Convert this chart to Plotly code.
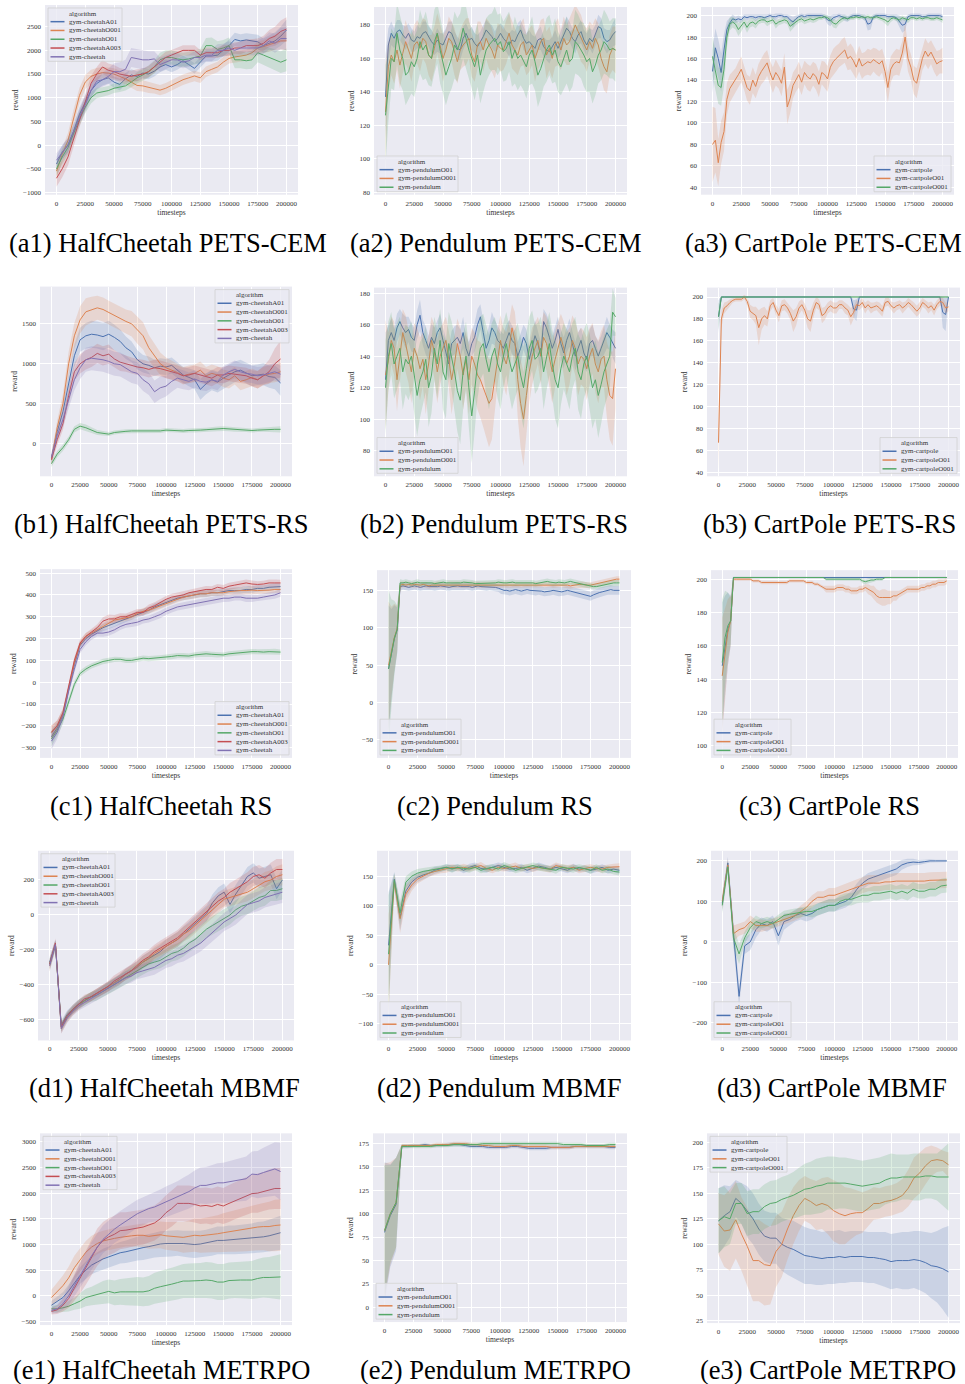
import plotly.graph_objects as go

W, H = 965, 1384

T5 = list(range(0, 200001, 5000))
T25 = list(range(0, 200001, 2500))
X_TICKS = [0, 25000, 50000, 75000, 100000, 125000, 150000, 175000, 200000]

CHEETAH = ["gym-cheetahA01", "gym-cheetahO001", "gym-cheetahO01", "gym-cheetahA003", "gym-cheetah"]
PENDULUM = ["gym-pendulumO01", "gym-pendulumO001", "gym-pendulum"]
CARTPOLE = ["gym-cartpole", "gym-cartpoleO01", "gym-cartpoleO001"]

# ---------------- (a1) HalfCheetah PETS-CEM  (T5) ----------------
a1_A01 = [-400, -150, 0, 300, 650, 900, 1150, 1300, 1380, 1420,
          1330, 1280, 1400, 1480, 1450, 1520, 1500, 1560, 1650, 1700,
          1650, 1700, 1780, 1700, 1620, 1750, 1880, 1880, 1900, 2000,
          2100, 2230, 2200, 2220, 2200, 2180, 2100, 2150, 2200, 2300,
          2430]
a1_O001 = [-550, -200, 100, 600, 1050, 1330, 1450, 1500, 1530, 1520,
           1500, 1450, 1400, 1330, 1260, 1250, 1220, 1200, 1160, 1200,
           1260, 1320, 1380, 1420, 1460, 1420, 1550, 1600, 1650, 1750,
           1830, 1860, 1880, 1900, 1950, 2050, 2080, 2120, 2170, 2200,
           2200]
a1_O01 = [-500, -250, -50, 250, 550, 800, 1000, 1100, 1120, 1150,
          1200, 1220, 1250, 1330, 1420, 1480, 1550, 1650, 1800, 1850,
          1850, 1820, 1800, 1820, 1850, 1880, 2100, 2100, 2020, 2050,
          2100, 1800, 1800, 1780, 1800, 1950, 1900, 1850, 1800, 1750,
          1800]
a1_A003 = [-700, -500, -250, 150, 550, 900, 1300, 1500, 1650, 1580,
           1550, 1500, 1470, 1450, 1480, 1500, 1550, 1650, 1750, 1850,
           1900, 1950, 2000, 2000, 2000, 1900, 1950, 1950, 1950, 2000,
           2000, 2050, 2050, 2100, 2100, 2100, 2150, 2250, 2300, 2400,
           2450]
a1_ch = [-320, -150, 0, 300, 600, 850, 1150, 1350, 1380, 1450,
         1550, 1550, 1600, 1850, 1820, 1800, 1800, 1820, 1700, 1750,
         1800, 1800, 1750, 1780, 1850, 1850, 1900, 1900, 2000, 2000,
         2050, 2000, 2050, 2050, 2050, 2050, 2100, 2200, 2150, 2250,
         2250]
a1_A01_hw = [150, 150, 150, 150, 150, 150, 150, 130, 120, 120,
             120, 120, 120, 120, 110, 110, 110, 110, 110, 110,
             110, 110, 110, 110, 110, 110, 120, 120, 120, 120,
             130, 140, 140, 140, 140, 150, 150, 160, 180, 200,
             220]
a1_O001_hw = [150, 150, 160, 160, 160, 150, 140, 130, 120, 120,
              120, 120, 120, 120, 120, 120, 120, 110, 110, 110,
              110, 110, 110, 110, 110, 110, 110, 110, 110, 110,
              110, 120, 120, 120, 130, 130, 140, 150, 160, 180,
              200]
a1_O01_hw = [150, 150, 150, 150, 140, 130, 120, 110, 100, 100,
             100, 100, 100, 110, 120, 120, 130, 140, 150, 150,
             150, 150, 150, 150, 150, 150, 160, 170, 170, 170,
             170, 180, 180, 180, 190, 200, 200, 210, 220, 230,
             240]
a1_A003_hw = [180, 180, 180, 180, 170, 170, 160, 150, 150, 140,
              140, 130, 130, 120, 120, 120, 120, 120, 120, 120,
              110, 110, 110, 110, 110, 110, 110, 110, 110, 120,
              120, 120, 130, 130, 140, 150, 160, 180, 200, 230,
              250]
a1_ch_hw = [150, 150, 150, 150, 150, 150, 150, 150, 150, 160,
            180, 200, 200, 200, 200, 200, 180, 160, 150, 150,
            140, 140, 130, 130, 130, 130, 130, 130, 130, 140,
            140, 140, 150, 150, 150, 160, 170, 180, 200, 220,
            240]

# ---------------- (a2) Pendulum PETS-CEM  (T25) ----------------
a2_O01 = [137, 168, 175, 172, 176, 177, 174, 172, 175, 171,
          170, 173, 172, 175, 176, 173, 170, 168, 171, 169,
          168, 172, 176, 175, 170, 166, 165, 172, 175, 171,
          172, 169, 167, 170, 173, 177, 175, 173, 170, 172,
          175, 172, 170, 168, 171, 170, 174, 177, 172, 169,
          170, 168, 166, 171, 172, 167, 165, 164, 167, 170,
          166, 170, 175, 178, 176, 172, 170, 174, 176, 171,
          168, 172, 170, 174, 179, 178, 172, 170, 171, 174,
          176]
a2_O001 = [128, 155, 162, 158, 165, 156, 163, 170, 165, 160,
           168, 170, 166, 172, 170, 162, 160, 166, 175, 168,
           160, 165, 172, 170, 164, 158, 165, 168, 170, 172,
           162, 158, 168, 170, 165, 172, 168, 165, 160, 168,
           166, 165, 170, 175, 168, 165, 162, 168, 170, 162,
           165, 168, 160, 165, 170, 172, 162, 166, 160, 168,
           170, 165, 172, 168, 170, 175, 180, 176, 172, 168,
           165, 170, 166, 172, 168, 160, 155, 152, 162, 166,
           165]
a2_pend = [126, 142, 160, 158, 175, 165, 160, 150, 152, 158,
           155, 160, 170, 165, 168, 162, 160, 170, 175, 165,
           158, 150, 155, 160, 168, 165, 170, 178, 172, 165,
           160, 155, 162, 150, 158, 165, 168, 170, 172, 168,
           170, 164, 166, 170, 160, 165, 160, 162, 158, 155,
           162, 165, 158, 150, 154, 160, 165, 168, 162, 165,
           158, 155, 160, 165, 158, 160, 170, 168, 165, 162,
           158, 160, 152, 156, 162, 165, 170, 168, 165, 166,
           165]
a2_O01_hw = [25, 10, 7, 6, 7, 6, 6, 7, 6, 7,
             6, 7, 6, 7, 6, 6, 7, 6, 7, 6,
             7, 6, 6, 7, 6, 7, 6, 7, 6, 6,
             7, 6, 7, 6, 7, 6, 6, 7, 6, 7,
             6, 7, 6, 7, 6, 6, 7, 6, 7, 6,
             7, 6, 7, 6, 7, 6, 6, 7, 6, 7,
             6, 7, 6, 7, 6, 6, 7, 6, 7, 6,
             7, 6, 7, 6, 7, 6, 6, 7, 6, 7,
             8]
a2_O001_hw = [30, 15, 12, 13, 12, 14, 12, 13, 12, 14,
              12, 13, 14, 12, 13, 12, 14, 13, 12, 13,
              14, 12, 13, 12, 14, 13, 12, 13, 14, 12,
              13, 12, 14, 12, 13, 12, 14, 13, 12, 13,
              14, 12, 13, 12, 14, 13, 12, 13, 14, 12,
              13, 12, 14, 12, 13, 12, 14, 13, 12, 13,
              14, 12, 13, 12, 14, 13, 12, 13, 14, 12,
              13, 12, 14, 12, 13, 12, 14, 13, 12, 13,
              14]
a2_pend_hw = [30, 20, 18, 17, 18, 20, 19, 18, 17, 19,
              18, 17, 19, 18, 20, 18, 17, 19, 18, 20,
              19, 18, 17, 18, 20, 19, 17, 18, 19, 17,
              18, 20, 19, 17, 18, 19, 18, 17, 19, 18,
              17, 18, 19, 18, 17, 20, 19, 18, 17, 19,
              18, 20, 17, 19, 18, 17, 19, 18, 17, 19,
              18, 17, 19, 20, 18, 17, 19, 18, 17, 19,
              18, 20, 19, 18, 17, 18, 19, 18, 17, 18,
              19]

# ---------------- (a3) CartPole PETS-CEM  (T25) ----------------
a3_cart = [148, 170, 160, 147, 168, 187, 193, 197, 196, 197,
           196, 199, 198, 199, 199, 198, 199, 199, 198, 199,
           200, 199, 199, 200, 200, 199, 199, 196, 194, 197,
           199, 200, 199, 200, 200, 200, 200, 200, 200, 199,
           196, 195, 198, 199, 200, 199, 198, 197, 199, 200,
           200, 200, 199, 198, 192, 193, 199, 200, 200, 200,
           200, 199, 199, 199, 198, 195, 191, 192, 199, 200,
           200, 200, 200, 199, 199, 200, 200, 200, 200, 200,
           199]
a3_O01 = [80, 84, 63, 82, 92, 122, 132, 136, 140, 145,
          150, 142, 133, 130, 140, 134, 143, 148, 152, 156,
          147, 140, 147, 143, 137, 152, 115, 123, 135, 140,
          145, 138, 147, 143, 141, 146, 143, 136, 147, 145,
          141, 152, 157, 160, 163, 166, 168, 160, 162, 158,
          152, 160, 153, 155, 157, 156, 159, 157, 155, 158,
          148, 133, 150, 155, 157, 156, 165, 180, 160, 152,
          140, 137, 148, 160, 167, 162, 166, 160, 155, 157,
          158]
a3_O001 = [162, 150, 135, 133, 150, 180, 192, 194, 192, 187,
           190, 194, 189, 193, 194, 192, 195, 196, 196, 194,
           195, 196, 192, 194, 195, 196, 195, 190, 192, 194,
           196, 197, 195, 196, 197, 196, 197, 198, 198, 199,
           198, 196, 193, 192, 195, 197, 198, 197, 198, 198,
           199, 198, 199, 198, 199, 198, 198, 199, 198, 197,
           196, 194, 197, 198, 197, 196, 198, 197, 196, 198,
           198, 197, 198, 197, 198, 198, 197, 197, 198, 197,
           196]
a3_cart_hw = [20, 18, 18, 18, 15, 8, 5, 4, 3, 3,
              3, 2, 3, 2, 2, 3, 2, 2, 3, 2,
              2, 2, 3, 2, 2, 2, 2, 4, 5, 3,
              2, 2, 2, 2, 2, 2, 2, 2, 2, 2,
              4, 5, 3, 2, 2, 2, 3, 3, 2, 2,
              2, 2, 2, 3, 6, 6, 2, 2, 2, 2,
              2, 2, 2, 2, 3, 5, 7, 6, 2, 2,
              2, 2, 2, 2, 2, 2, 2, 2, 2, 2,
              2]
a3_O01_hw = [35, 30, 22, 20, 18, 15, 13, 12, 11, 12,
             12, 11, 12, 13, 12, 11, 12, 12, 13, 12,
             11, 12, 12, 11, 12, 13, 16, 14, 12, 11,
             12, 12, 11, 12, 12, 11, 12, 12, 11, 12,
             12, 11, 12, 12, 11, 12, 12, 11, 12, 12,
             11, 12, 12, 11, 12, 12, 11, 12, 12, 11,
             12, 14, 12, 11, 12, 12, 11, 13, 12, 12,
             13, 14, 12, 11, 12, 12, 11, 12, 12, 11,
             12]
a3_O001_hw = [18, 18, 17, 17, 16, 10, 6, 5, 5, 6,
              5, 4, 5, 4, 4, 4, 3, 3, 3, 4,
              3, 3, 4, 3, 3, 3, 3, 5, 4, 3,
              3, 3, 3, 3, 3, 3, 3, 2, 2, 2,
              2, 3, 4, 4, 3, 3, 2, 2, 2, 2,
              2, 2, 2, 2, 2, 2, 2, 2, 2, 2,
              3, 4, 3, 2, 2, 3, 2, 2, 3, 2,
              2, 2, 2, 2, 2, 2, 2, 2, 2, 2,
              3]

# ---------------- (b1) HalfCheetah PETS-RS  (T5) ----------------
b1_A01 = [-180, 150, 400, 750, 1100, 1300, 1350, 1370, 1360, 1340,
          1370, 1330, 1280, 1200, 1150, 1050, 1000, 980, 950, 970,
          960, 980, 920, 860, 830, 800, 680, 750, 800, 770,
          820, 860, 900, 920, 880, 850, 860, 870, 840, 830,
          760]
b1_O001 = [-200, 200, 500, 1000, 1350, 1550, 1650, 1680, 1700, 1680,
           1640, 1600, 1560, 1530, 1500, 1420, 1350, 1200, 1100, 1000,
           950, 920, 890, 850, 870, 880, 920, 850, 880, 860,
           820, 800, 850, 780, 800, 830, 800, 850, 870, 880,
           900]
b1_O01 = [-250, -130, -50, 50, 180, 220, 200, 170, 140, 130,
          120, 140, 150, 155, 160, 160, 160, 155, 160, 160,
          170, 165, 165, 160, 165, 165, 170, 175, 180, 185,
          190, 185, 180, 175, 170, 165, 170, 175, 180, 180,
          180]
b1_A003 = [-200, 50, 250, 600, 900, 1000, 1050, 1080, 1130, 1100,
           1120, 1060, 1020, 1000, 980, 960, 950, 930, 950, 940,
           920, 900, 880, 850, 860, 880, 860, 840, 820, 860,
           860, 880, 870, 860, 850, 820, 800, 850, 900, 1000,
           1060]
b1_ch = [-170, 100, 300, 550, 800, 950, 1050, 1070, 1060, 1050,
         1030, 1000, 990, 950, 900, 880, 800, 750, 650, 700,
         720, 780, 820, 800, 780, 810, 780, 770, 800, 780,
         860, 900, 930, 900, 880, 870, 850, 860, 880, 900,
         870]
b1_A01_hw = [60, 80, 100, 120, 140, 150, 160, 170, 170, 170,
             170, 160, 150, 140, 130, 120, 110, 110, 100, 100,
             100, 100, 100, 100, 110, 120, 130, 130, 130, 130,
             130, 130, 130, 130, 130, 130, 130, 140, 140, 150,
             160]
b1_O001_hw = [60, 90, 120, 150, 160, 170, 170, 160, 150, 150,
              150, 150, 150, 150, 160, 170, 170, 160, 150, 140,
              130, 120, 110, 110, 110, 110, 110, 110, 110, 110,
              110, 110, 110, 110, 110, 110, 110, 110, 110, 110,
              110]
b1_O01_hw = [40, 40, 40, 40, 40, 40, 40, 35, 30, 30,
             25, 25, 25, 25, 25, 25, 25, 25, 25, 25,
             25, 25, 25, 25, 25, 25, 25, 25, 30, 30,
             30, 30, 30, 30, 25, 25, 25, 25, 30, 35,
             40]
b1_A003_hw = [60, 70, 80, 100, 110, 120, 120, 120, 120, 120,
              120, 110, 110, 100, 100, 100, 100, 100, 100, 100,
              100, 100, 100, 100, 100, 100, 100, 100, 100, 100,
              100, 100, 100, 100, 100, 100, 110, 120, 150, 190,
              230]
b1_ch_hw = [60, 70, 90, 110, 130, 140, 150, 150, 150, 150,
            150, 150, 150, 150, 140, 140, 140, 140, 140, 140,
            130, 130, 120, 120, 110, 110, 110, 110, 110, 110,
            110, 110, 110, 110, 110, 110, 110, 110, 110, 110,
            110]

# ---------------- (b2) Pendulum PETS-RS  (T25) ----------------
b2_O01 = [125, 150, 155, 150, 158, 162, 158, 155, 157, 152,
          150, 160, 166, 155, 150, 145, 152, 148, 155, 158,
          150, 143, 135, 148, 150, 152, 148, 155, 145, 140,
          148, 152, 160, 165, 155, 145, 150, 158, 155, 150,
          148, 145, 150, 155, 150, 148, 140, 145, 152, 148,
          138, 145, 153, 148, 140, 162, 158, 152, 145, 150,
          157, 148, 142, 150, 155, 148, 140, 145, 150, 142,
          138, 148, 150, 145, 140, 145, 150, 155, 152, 148,
          145]
b2_O001 = [128, 137, 150, 145, 125, 140, 155, 148, 140, 130,
           145, 140, 132, 138, 125, 135, 150, 143, 130, 140,
           145, 150, 138, 125, 135, 148, 140, 128, 138, 125,
           140, 135, 128, 125, 120, 115, 110, 113, 125, 140,
           150, 140, 135, 145, 158, 150, 125, 110, 100, 115,
           130, 140, 145, 150, 140, 152, 148, 140, 130, 138,
           145, 152, 145, 135, 140, 150, 145, 135, 140, 138,
           132, 140, 145, 135, 130, 138, 140, 125, 115, 113,
           132]
b2_pend = [120, 140, 148, 135, 140, 145, 130, 138, 135, 140,
           128, 115, 125, 130, 138, 120, 128, 145, 135, 150,
           130, 125, 148, 140, 130, 118, 112, 130, 140, 120,
           102, 118, 135, 145, 148, 138, 130, 140, 145, 135,
           130, 140, 148, 138, 130, 135, 140, 128, 120, 132,
           145, 150, 138, 140, 145, 130, 140, 148, 135, 125,
           120, 132, 140, 135, 130, 140, 145, 130, 125, 135,
           140, 130, 120, 125, 115, 122, 130, 135, 140, 168,
           165]
b2_O01_hw = [30, 10, 9, 8, 9, 8, 9, 10, 8, 9,
             8, 9, 10, 8, 9, 8, 9, 10, 8, 9,
             8, 9, 10, 8, 9, 8, 9, 10, 8, 9,
             8, 9, 10, 8, 9, 8, 9, 10, 8, 9,
             8, 9, 10, 8, 9, 8, 9, 10, 8, 9,
             8, 9, 10, 8, 9, 8, 9, 10, 8, 9,
             8, 9, 10, 8, 9, 8, 9, 10, 8, 9,
             8, 9, 10, 8, 9, 8, 9, 10, 8, 9,
             10]
b2_O001_hw = [35, 18, 15, 17, 20, 16, 15, 18, 17, 20,
              16, 18, 20, 17, 22, 18, 15, 17, 20, 18,
              16, 15, 18, 22, 18, 16, 18, 22, 18, 22,
              18, 20, 22, 24, 25, 26, 28, 26, 22, 18,
              16, 18, 20, 17, 15, 18, 24, 28, 30, 26,
              20, 18, 16, 15, 18, 16, 17, 18, 20, 18,
              16, 15, 17, 20, 18, 16, 17, 20, 18, 18,
              20, 18, 16, 18, 20, 18, 20, 24, 28, 30,
              25]
b2_pend_hw = [30, 22, 20, 22, 21, 20, 24, 22, 23, 22,
              24, 26, 24, 22, 21, 25, 24, 20, 22, 20,
              24, 25, 20, 22, 24, 26, 28, 24, 22, 26,
              30, 26, 22, 20, 19, 22, 24, 21, 20, 22,
              24, 21, 20, 22, 24, 22, 21, 24, 26, 23,
              20, 19, 22, 21, 20, 24, 22, 20, 22, 25,
              26, 23, 21, 22, 24, 21, 20, 24, 25, 22,
              21, 24, 26, 25, 27, 25, 23, 22, 21, 15,
              12]

# ---------------- (b3) CartPole PETS-RS  (T25) ----------------
b3_cart = [182, 200, 200, 200, 200, 200, 200, 200, 200, 200,
           200, 200, 200, 200, 200, 200, 200, 200, 200, 200,
           200, 200, 200, 200, 200, 200, 200, 200, 200, 200,
           200, 200, 200, 200, 200, 200, 200, 200, 200, 200,
           200, 200, 200, 200, 200, 200, 200, 189, 188, 200,
           200, 200, 200, 200, 200, 200, 200, 200, 200, 200,
           200, 200, 200, 200, 200, 200, 200, 200, 200, 200,
           200, 200, 200, 200, 200, 200, 200, 200, 186, 184,
           200]
b3_O01 = [67, 180, 190, 192, 195, 197, 198, 198, 198, 200,
          196, 187, 185, 183, 172, 180, 183, 180, 192, 195,
          188, 183, 192, 193, 190, 185, 178, 182, 190, 193,
          188, 180, 178, 188, 195, 193, 183, 185, 190, 192,
          190, 190, 193, 193, 190, 188, 182, 186, 193, 192,
          195, 190, 193, 190, 191, 192, 190, 187, 195, 196,
          192, 190, 192, 193, 190, 192, 195, 193, 190, 187,
          190, 195, 193, 190, 192, 188, 193, 196, 195, 190,
          191]
b3_O001 = [182, 200, 200, 200, 200, 200, 200, 200, 200, 200,
           200, 200, 200, 200, 200, 200, 200, 200, 200, 200,
           200, 200, 200, 200, 200, 200, 200, 200, 200, 200,
           200, 200, 200, 200, 200, 200, 200, 200, 200, 200,
           200, 200, 200, 200, 200, 200, 200, 200, 200, 200,
           200, 200, 200, 200, 200, 200, 200, 200, 200, 200,
           200, 200, 200, 200, 200, 200, 200, 200, 200, 200,
           200, 200, 200, 200, 200, 200, 200, 200, 200, 200,
           200]
b3_cart_hw = [15, 1, 1, 1, 1, 1, 1, 1, 1, 1,
              1, 1, 1, 1, 1, 1, 1, 1, 1, 1,
              1, 1, 1, 1, 1, 1, 1, 1, 1, 1,
              1, 1, 1, 1, 1, 1, 1, 1, 1, 1,
              1, 1, 1, 1, 1, 1, 1, 8, 10, 1,
              1, 1, 1, 1, 1, 1, 1, 1, 1, 1,
              1, 1, 1, 1, 1, 1, 1, 1, 1, 1,
              1, 1, 1, 1, 1, 1, 1, 1, 14, 15,
              1]
b3_O01_hw = [25, 8, 5, 4, 3, 2, 2, 2, 2, 2,
             4, 6, 6, 8, 16, 10, 8, 7, 5, 4,
             5, 6, 5, 5, 5, 6, 10, 8, 6, 5,
             6, 8, 10, 7, 5, 5, 7, 6, 5, 5,
             5, 5, 4, 4, 5, 5, 8, 6, 4, 4,
             4, 5, 4, 5, 4, 4, 5, 5, 4, 4,
             4, 5, 4, 4, 5, 4, 4, 4, 5, 5,
             5, 4, 4, 5, 4, 5, 4, 4, 4, 5,
             4]
b3_O001_hw = [12, 1, 1, 1, 1, 1, 1, 1, 1, 1,
              1, 1, 1, 1, 1, 1, 1, 1, 1, 1,
              1, 1, 1, 1, 1, 1, 1, 1, 1, 1,
              1, 1, 1, 1, 1, 1, 1, 1, 1, 1,
              1, 1, 1, 1, 1, 1, 1, 1, 1, 1,
              1, 1, 1, 1, 1, 1, 1, 1, 1, 1,
              1, 1, 1, 1, 1, 1, 1, 1, 1, 1,
              1, 1, 1, 1, 1, 1, 1, 1, 1, 1,
              1]

# ---------------- (c1) HalfCheetah RS  (T5) ----------------
c1_A01 = [-250, -210, -150, -30, 80, 170, 200, 220, 235, 250,
          260, 270, 280, 290, 300, 310, 320, 330, 345, 355,
          365, 375, 385, 390, 395, 400, 405, 405, 410, 410,
          415, 420, 420, 420, 425, 425, 430, 430, 435, 438,
          438]
c1_O001 = [-230, -200, -145, -25, 90, 175, 210, 225, 240, 255,
           270, 285, 290, 295, 300, 315, 325, 330, 340, 350,
           360, 370, 380, 390, 395, 400, 405, 405, 410, 410,
           410, 415, 418, 420, 420, 422, 420, 420, 422, 425,
           425]
c1_O01 = [-260, -220, -170, -90, -10, 40, 60, 75, 85, 95,
          100, 105, 105, 100, 100, 105, 110, 108, 110, 112,
          115, 118, 122, 122, 120, 125, 128, 130, 128, 125,
          125, 130, 133, 135, 138, 140, 140, 138, 140, 140,
          138]
c1_A003 = [-230, -200, -140, -20, 100, 180, 210, 230, 250, 280,
           290, 290, 300, 300, 310, 320, 320, 340, 350, 365,
           380, 390, 395, 400, 410, 415, 420, 425, 425, 435,
           430, 440, 445, 450, 455, 450, 448, 450, 455, 455,
           455]
c1_ch = [-270, -230, -160, -40, 60, 150, 185, 210, 225, 225,
         230, 240, 255, 265, 270, 275, 285, 290, 300, 310,
         325, 335, 345, 350, 355, 360, 365, 370, 375, 380,
         385, 385, 390, 390, 385, 385, 385, 390, 395, 400,
         410]
c1_A01_hw = [30, 25, 20, 18, 16, 15, 14, 14, 15, 16,
             16, 15, 15, 14, 14, 15, 15, 16, 16, 15,
             15, 15, 14, 14, 15, 15, 16, 16, 15, 15,
             14, 14, 15, 15, 16, 15, 15, 14, 14, 15,
             16]
c1_O001_hw = [32, 26, 22, 18, 16, 15, 15, 14, 14, 15,
              15, 16, 15, 15, 14, 14, 15, 15, 16, 16,
              15, 15, 14, 14, 15, 16, 16, 15, 15, 14,
              14, 15, 15, 16, 16, 15, 14, 14, 15, 15,
              16]
c1_O01_hw = [35, 28, 22, 18, 15, 14, 13, 12, 12, 13,
             12, 12, 11, 12, 12, 13, 12, 12, 11, 12,
             12, 13, 12, 12, 11, 12, 12, 13, 12, 12,
             11, 12, 12, 13, 12, 12, 11, 12, 12, 13,
             12]
c1_A003_hw = [30, 25, 20, 18, 16, 16, 15, 15, 16, 18,
              20, 18, 16, 15, 15, 15, 15, 16, 16, 15,
              15, 15, 16, 16, 15, 15, 16, 16, 15, 15,
              16, 16, 15, 15, 16, 16, 15, 15, 16, 16,
              15]
c1_ch_hw = [38, 30, 24, 20, 18, 17, 16, 16, 16, 17,
            17, 16, 16, 16, 17, 17, 16, 16, 16, 17,
            17, 16, 16, 16, 17, 17, 16, 16, 16, 17,
            17, 16, 16, 16, 17, 17, 16, 16, 16, 17,
            18]

# ---------------- (c2) Pendulum RS  (T25) ----------------
c2_O01 = [45, 65, 85, 97, 155, 156, 155, 154, 155, 156,
          155, 154, 155, 156, 155, 155, 154, 155, 156, 155,
          155, 154, 155, 156, 156, 155, 155, 156, 155, 154,
          155, 156, 155, 155, 154, 155, 155, 154, 153, 151,
          150, 150, 149, 150, 151, 150, 149, 150, 151, 150,
          150, 149, 150, 149, 148, 148, 149, 150, 149, 148,
          148, 149, 150, 149, 148, 147, 146, 145, 144, 143,
          142, 144, 146, 147, 148, 149, 150, 151, 150, 150,
          150]
c2_O001 = [50, 68, 87, 99, 157, 158, 157, 158, 157, 158,
           157, 157, 158, 157, 156, 157, 157, 158, 158, 157,
           157, 158, 158, 157, 157, 158, 157, 157, 158, 158,
           157, 157, 157, 158, 158, 157, 157, 158, 157, 157,
           157, 158, 157, 157, 158, 157, 157, 158, 158, 157,
           157, 158, 157, 157, 157, 158, 158, 157, 157, 158,
           158, 157, 157, 156, 157, 157, 158, 158, 157, 157,
           157, 158, 158, 159, 160, 161, 162, 163, 164, 165,
           165]
c2_pend = [45, 66, 86, 98, 160, 160, 161, 160, 159, 160,
           161, 160, 160, 161, 160, 160, 159, 160, 160, 161,
           160, 160, 159, 159, 160, 160, 161, 161, 160, 160,
           159, 159, 160, 160, 159, 159, 160, 160, 161, 160,
           160, 160, 161, 161, 160, 160, 160, 161, 161, 160,
           160, 159, 160, 161, 162, 162, 161, 160, 160, 161,
           160, 160, 161, 162, 161, 160, 160, 159, 158, 157,
           156, 155, 155, 156, 157, 158, 159, 160, 160, 160,
           160]
c2_O01_hw = [85, 60, 45, 30, 6, 5, 5, 5, 5, 5,
             5, 5, 5, 5, 5, 5, 5, 5, 5, 5,
             5, 5, 5, 5, 5, 5, 5, 5, 5, 5,
             5, 5, 5, 5, 5, 5, 5, 5, 5, 6,
             6, 6, 6, 6, 6, 6, 6, 6, 6, 6,
             6, 6, 6, 6, 6, 6, 6, 6, 6, 6,
             6, 6, 6, 6, 6, 6, 6, 6, 6, 6,
             6, 6, 6, 6, 6, 6, 6, 6, 6, 6,
             6]
c2_O001_hw = [85, 60, 45, 30, 5, 4, 4, 4, 4, 4,
              4, 4, 4, 4, 4, 4, 4, 4, 4, 4,
              4, 4, 4, 4, 4, 4, 4, 4, 4, 4,
              4, 4, 4, 4, 4, 4, 4, 4, 4, 4,
              4, 4, 4, 4, 4, 4, 4, 4, 4, 4,
              4, 4, 4, 4, 4, 4, 4, 4, 4, 4,
              4, 4, 4, 4, 4, 4, 4, 4, 4, 4,
              4, 4, 4, 4, 4, 4, 4, 4, 4, 4,
              4]
c2_pend_hw = [105, 72, 50, 32, 5, 4, 4, 4, 4, 4,
              4, 4, 4, 4, 4, 4, 4, 4, 4, 4,
              4, 4, 4, 4, 4, 4, 4, 4, 4, 4,
              4, 4, 4, 4, 4, 4, 4, 4, 4, 4,
              4, 4, 4, 4, 4, 4, 4, 4, 4, 4,
              4, 4, 4, 4, 4, 4, 4, 4, 4, 4,
              4, 4, 4, 4, 4, 4, 4, 4, 4, 4,
              4, 4, 4, 4, 4, 4, 4, 4, 4, 4,
              4]

# ---------------- (c3) CartPole RS  (T25) ----------------
c3_cart = [148, 160, 170, 175, 201, 201, 201, 201, 201, 201,
           201, 201, 201, 201, 201, 201, 201, 201, 201, 201,
           201, 201, 201, 201, 201, 201, 201, 201, 201, 201,
           201, 201, 201, 201, 201, 201, 201, 201, 201, 201,
           201, 201, 201, 201, 201, 201, 201, 201, 201, 201,
           201, 201, 201, 201, 201, 201, 201, 201, 201, 201,
           201, 201, 201, 201, 201, 201, 201, 201, 201, 201,
           201, 201, 201, 201, 201, 201, 201, 201, 201, 201,
           201]
c3_O01 = [142, 155, 168, 175, 200, 200, 200, 200, 200, 200,
          200, 199, 199, 199, 198, 198, 198, 198, 198, 198,
          198, 198, 198, 198, 199, 199, 199, 199, 199, 199,
          198, 198, 198, 197, 197, 196, 195, 194, 194, 194,
          194, 195, 195, 195, 194, 194, 193, 193, 193, 194,
          194, 195, 194, 193, 192, 190, 189, 189, 189, 189,
          189, 190, 190, 191, 192, 193, 194, 194, 194, 194,
          194, 195, 195, 196, 196, 197, 197, 198, 198, 198,
          199]
c3_O001 = [150, 165, 172, 175, 201, 201, 201, 201, 201, 201,
           201, 201, 201, 201, 201, 201, 201, 201, 201, 201,
           201, 201, 201, 201, 201, 201, 201, 201, 201, 201,
           201, 201, 201, 201, 201, 201, 201, 200, 200, 200,
           200, 200, 200, 200, 200, 200, 200, 200, 200, 200,
           199, 198.5, 199, 199.5, 199.5, 200, 200, 200, 201, 201,
           201, 201, 201, 201, 201, 201, 201, 201, 201, 201,
           201, 201, 201, 201, 201, 201, 201, 201, 201, 201,
           201]
c3_cart_hw = [38, 30, 22, 15, 0.5, 0.5, 0.5, 0.5, 0.5, 0.5,
              0.5, 0.5, 0.5, 0.5, 0.5, 0.5, 0.5, 0.5, 0.5, 0.5,
              0.5, 0.5, 0.5, 0.5, 0.5, 0.5, 0.5, 0.5, 0.5, 0.5,
              0.5, 0.5, 0.5, 0.5, 0.5, 0.5, 0.5, 0.5, 0.5, 0.5,
              0.5, 0.5, 0.5, 0.5, 0.5, 0.5, 0.5, 0.5, 0.5, 0.5,
              0.5, 0.5, 0.5, 0.5, 0.5, 0.5, 0.5, 0.5, 0.5, 0.5,
              0.5, 0.5, 0.5, 0.5, 0.5, 0.5, 0.5, 0.5, 0.5, 0.5,
              0.5, 0.5, 0.5, 0.5, 0.5, 0.5, 0.5, 0.5, 0.5, 0.5,
              0.5]
c3_O01_hw = [35, 28, 20, 15, 1, 1, 1, 1, 1, 1,
             1, 1, 1, 1, 1, 1, 1, 1, 1, 1,
             1, 1, 1, 1, 1, 1, 1, 1, 1, 1,
             1, 1, 1, 1, 1, 1, 1, 2, 2, 2,
             2, 2, 2, 2, 2, 2, 2, 2, 2, 2,
             2, 2, 3, 3, 4, 4, 4, 5, 5, 4,
             4, 3, 3, 2, 2, 2, 2, 2, 2, 2,
             2, 2, 2, 2, 2, 2, 2, 2, 2, 2,
             2]
c3_O001_hw = [38, 28, 20, 14, 0.5, 0.5, 0.5, 0.5, 0.5, 0.5,
              0.5, 0.5, 0.5, 0.5, 0.5, 0.5, 0.5, 0.5, 0.5, 0.5,
              0.5, 0.5, 0.5, 0.5, 0.5, 0.5, 0.5, 0.5, 0.5, 0.5,
              0.5, 0.5, 0.5, 0.5, 0.5, 0.5, 0.5, 1, 1, 1,
              1, 1, 1, 1, 1, 1, 1, 1, 1, 1,
              1.5, 1.5, 1.5, 1.5, 1, 1, 1, 1, 0.5, 0.5,
              0.5, 0.5, 0.5, 0.5, 0.5, 0.5, 0.5, 0.5, 0.5, 0.5,
              0.5, 0.5, 0.5, 0.5, 0.5, 0.5, 0.5, 0.5, 0.5, 0.5,
              0.5]

# ---------------- (d1) HalfCheetah MBMF  (T5) ----------------
d1_A01 = [-270, -170, -630, -570, -540, -510, -490, -470, -450, -430,
          -410, -390, -370, -340, -320, -300, -270, -250, -230, -210,
          -180, -160, -140, -110, -80, -50, -20, 10, 70, 110,
          130, 60, 120, 170, 220, 240, 210, 220, 230, 150,
          200]
d1_O001 = [-290, -170, -650, -590, -550, -520, -490, -470, -450, -430,
           -410, -390, -370, -340, -320, -300, -270, -250, -220, -200,
           -180, -160, -140, -110, -90, -60, -30, 0, 30, 60,
           90, 100, 110, 120, 130, 150, 170, 190, 200, 220,
           230]
d1_O01 = [-280, -170, -640, -580, -540, -510, -490, -470, -460, -440,
          -420, -400, -380, -360, -340, -320, -300, -280, -270, -260,
          -240, -220, -210, -190, -160, -140, -110, -80, -60, -40,
          -20, 0, 30, 50, 60, 80, 100, 110, 140, 140,
          150]
d1_A003 = [-280, -160, -640, -580, -540, -510, -480, -470, -450, -430,
           -410, -380, -360, -340, -320, -290, -260, -240, -210, -190,
           -170, -150, -130, -100, -70, -40, -10, 20, 50, 80,
           100, 130, 150, 170, 190, 220, 230, 210, 240, 260,
           260]
d1_ch = [-290, -170, -650, -590, -550, -520, -500, -480, -460, -440,
         -420, -400, -380, -360, -350, -330, -320, -310, -300, -280,
         -260, -250, -230, -220, -200, -180, -160, -130, -100, -70,
         -40, -20, 0, 30, 60, 70, 80, 100, 110, 120,
         130]
d1_A01_hw = [30, 26, 25, 24, 25, 26, 25, 24, 25, 26,
             28, 30, 30, 32, 34, 35, 36, 38, 38, 40,
             40, 42, 42, 44, 44, 45, 46, 46, 48, 48,
             50, 52, 52, 54, 54, 55, 56, 56, 58, 60,
             60]
d1_O001_hw = [32, 26, 28, 26, 25, 24, 25, 26, 25, 24,
              26, 28, 30, 30, 32, 34, 35, 36, 38, 38,
              40, 40, 42, 42, 44, 44, 45, 46, 46, 48,
              48, 50, 50, 52, 52, 54, 54, 55, 56, 58,
              60]
d1_O01_hw = [30, 25, 26, 25, 24, 25, 26, 28, 30, 32,
             34, 36, 38, 40, 40, 42, 42, 44, 44, 45,
             46, 46, 48, 48, 50, 50, 50, 52, 52, 52,
             54, 54, 55, 55, 56, 56, 58, 58, 60, 60,
             62]
d1_A003_hw = [30, 25, 26, 25, 26, 25, 24, 25, 26, 28,
              30, 32, 34, 35, 36, 38, 38, 40, 40, 42,
              42, 44, 44, 45, 46, 46, 48, 48, 50, 50,
              50, 52, 52, 54, 54, 55, 55, 56, 58, 60,
              60]
d1_ch_hw = [34, 28, 28, 26, 25, 26, 25, 26, 28, 30,
            32, 34, 35, 36, 38, 38, 40, 40, 42, 42,
            44, 44, 45, 46, 46, 48, 48, 50, 50, 52,
            52, 54, 54, 55, 55, 56, 56, 58, 58, 60,
            62]

# ---------------- (d2) Pendulum MBMF  (T5) ----------------
d2_O01 = [33, 145, 80, 125, 140, 148, 152, 155, 160, 162,
          165, 163, 165, 160, 165, 168, 163, 162, 165, 168,
          165, 162, 163, 165, 160, 163, 167, 165, 162, 165,
          163, 160, 165, 162, 163, 160, 162, 165, 160, 162,
          160]
d2_O001 = [0, 140, 78, 120, 135, 145, 150, 155, 158, 160,
           162, 165, 163, 165, 163, 165, 168, 163, 160, 165,
           163, 165, 167, 163, 165, 163, 165, 163, 162, 168,
           165, 163, 165, 160, 163, 165, 163, 162, 165, 166,
           166]
d2_pend = [18, 143, 88, 140, 150, 155, 158, 160, 162, 163,
           165, 162, 165, 163, 162, 165, 160, 163, 165, 162,
           168, 165, 160, 163, 165, 168, 165, 163, 162, 160,
           165, 163, 162, 165, 163, 160, 165, 160, 162, 158,
           157]
d2_O01_hw = [90, 12, 22, 12, 10, 8, 7, 6, 6, 5,
             5, 6, 5, 5, 6, 5, 5, 6, 5, 5,
             6, 5, 5, 6, 5, 5, 6, 5, 5, 6,
             5, 5, 6, 5, 5, 6, 5, 5, 6, 5,
             6]
d2_O001_hw = [85, 13, 24, 14, 10, 8, 7, 6, 6, 5,
              6, 5, 5, 6, 5, 5, 6, 5, 5, 6,
              5, 5, 6, 5, 5, 6, 5, 5, 6, 5,
              5, 6, 5, 5, 6, 5, 5, 6, 5, 5,
              6]
d2_pend_hw = [100, 12, 20, 10, 8, 7, 6, 6, 5, 5,
              5, 6, 5, 5, 6, 5, 5, 6, 5, 5,
              6, 5, 5, 6, 5, 5, 6, 5, 5, 6,
              5, 5, 6, 5, 5, 6, 5, 5, 6, 5,
              6]

# ---------------- (d3) CartPole MBMF  (T5) ----------------
d3_cart = [95, 195, 20, -135, -10, 0, 30, 45, 40, 50,
           15, 50, 55, 65, 70, 65, 70, 80, 85, 90,
           90, 95, 100, 110, 130, 145, 155, 160, 165, 170,
           175, 180, 190, 195, 197, 196, 198, 200, 200, 200,
           200]
d3_O01 = [100, 190, 20, 30, 35, 50, 40, 40, 40, 45,
          50, 55, 60, 65, 75, 85, 100, 110, 110, 115,
          115, 120, 125, 130, 135, 140, 145, 145, 145, 148,
          148, 150, 150, 150, 150, 150, 150, 152, 152, 153,
          153]
d3_O001 = [90, 185, 10, -30, 10, 35, 50, 45, 50, 45,
           55, 65, 68, 70, 72, 75, 75, 80, 85, 90,
           90, 100, 105, 105, 110, 115, 115, 120, 120, 122,
           125, 120, 125, 120, 130, 125, 125, 130, 130, 138,
           140]
d3_cart_hw = [20, 15, 30, 25, 20, 20, 20, 15, 15, 15,
              25, 20, 15, 15, 15, 15, 15, 15, 15, 15,
              15, 15, 15, 15, 15, 15, 15, 15, 15, 15,
              15, 15, 12, 10, 8, 6, 5, 4, 3, 3,
              3]
d3_O01_hw = [20, 15, 20, 15, 15, 15, 15, 15, 12, 12,
             12, 12, 12, 12, 15, 15, 15, 15, 15, 18,
             18, 18, 20, 20, 20, 20, 20, 20, 20, 20,
             20, 20, 20, 20, 20, 20, 20, 20, 20, 20,
             20]
d3_O001_hw = [20, 15, 25, 25, 15, 15, 15, 12, 12, 12,
              12, 12, 12, 12, 12, 12, 15, 15, 15, 15,
              15, 15, 15, 15, 15, 18, 18, 18, 18, 18,
              18, 18, 18, 18, 18, 18, 18, 18, 18, 18,
              18]

# ---------------- (e1) HalfCheetah METRPO  (T5) ----------------
e1_A01 = [-180, -100, -30, 100, 250, 400, 500, 600, 660, 720,
          760, 800, 840, 860, 890, 920, 940, 960, 990, 1010,
          1020, 1020, 1030, 1020, 1010, 1000, 1010, 1030, 1050, 1080,
          1080, 1090, 1090, 1100, 1110, 1120, 1140, 1150, 1170, 1200,
          1230]
e1_O001 = [-30, 80, 200, 350, 550, 700, 850, 950, 1020, 1070,
           1100, 1120, 1140, 1160, 1170, 1180, 1180, 1160, 1170, 1190,
           1170, 1160, 1160, 1140, 1160, 1180, 1170, 1180, 1200, 1210,
           1230, 1250, 1260, 1280, 1300, 1320, 1340, 1350, 1350, 1370,
           1380]
e1_O01 = [-250, -250, -230, -200, -150, -100, -30, 0, 40, 70,
          90, 60, 80, 80, 80, 90, 80, 100, 150, 180,
          200, 230, 260, 290, 290, 290, 300, 310, 300, 270,
          270, 300, 310, 310, 310, 310, 340, 360, 360, 370,
          370]
e1_A003 = [-300, -270, -180, -50, 150, 350, 550, 750, 950, 1080,
           1150, 1200, 1270, 1280, 1300, 1320, 1340, 1380, 1420, 1500,
           1620, 1700, 1800, 1800, 1800, 1780, 1750, 1760, 1740, 1780,
           1750, 1800, 1850, 1900, 1950, 1990, 2000, 2030, 2070, 2090,
           2090]
e1_ch = [-280, -250, -150, 0, 200, 400, 600, 780, 950, 1100,
         1200, 1300, 1380, 1450, 1520, 1600, 1650, 1700, 1730, 1780,
         1830, 1880, 1920, 1980, 2030, 2100, 2150, 2150, 2180, 2200,
         2200, 2220, 2250, 2260, 2280, 2370, 2360, 2400, 2440, 2470,
         2420]
e1_A01_hw = [80, 90, 100, 120, 140, 160, 170, 180, 190, 200,
             200, 210, 210, 220, 230, 230, 240, 240, 240, 250,
             250, 250, 250, 250, 260, 260, 260, 260, 270, 270,
             270, 280, 280, 280, 290, 290, 300, 300, 310, 320,
             330]
e1_O001_hw = [150, 180, 200, 220, 230, 230, 220, 220, 210, 200,
              200, 200, 200, 200, 210, 220, 230, 240, 250, 260,
              270, 280, 290, 300, 310, 320, 330, 340, 350, 360,
              380, 390, 400, 420, 430, 440, 450, 460, 480, 500,
              500]
e1_O01_hw = [60, 70, 80, 100, 120, 150, 170, 180, 200, 220,
             230, 240, 250, 260, 270, 280, 280, 290, 300, 310,
             320, 320, 330, 330, 340, 340, 340, 350, 350, 350,
             350, 350, 350, 350, 360, 370, 380, 390, 400, 420,
             440]
e1_A003_hw = [60, 80, 120, 180, 250, 300, 330, 350, 360, 360,
              360, 360, 360, 350, 350, 340, 340, 340, 340, 340,
              340, 350, 350, 350, 350, 350, 350, 350, 350, 350,
              350, 360, 360, 360, 370, 370, 380, 380, 390, 400,
              400]
e1_ch_hw = [60, 80, 120, 180, 220, 250, 260, 270, 270, 270,
            270, 270, 270, 270, 270, 270, 270, 270, 280, 290,
            300, 300, 310, 320, 330, 340, 350, 360, 370, 380,
            390, 400, 410, 420, 430, 440, 460, 480, 500, 520,
            560]

# ---------------- (e2) Pendulum METRPO  (T5) ----------------
e2_O01 = [80, 98, 110, 172, 172, 173, 173, 174, 173, 173,
          173, 174, 174, 174, 173, 172, 172, 172, 171, 171,
          171, 171, 172, 172, 171, 170, 170, 170, 170, 171,
          171, 171, 171, 172, 172, 172, 172, 172, 172, 171,
          171]
e2_O001 = [82, 100, 112, 173, 173, 173, 173, 173, 173, 174,
           174, 174, 175, 175, 175, 174, 174, 173, 173, 172,
           172, 172, 173, 173, 172, 172, 172, 172, 172, 171,
           171, 171, 171, 172, 172, 172, 172, 172, 172, 172,
           172]
e2_pend = [82, 100, 112, 172, 172, 172, 172, 172, 172, 173,
           173, 173, 174, 174, 174, 174, 174, 175, 175, 175,
           175, 175, 175, 175, 175, 175, 175, 175, 175, 175,
           175, 174, 174, 174, 174, 173, 173, 173, 173, 174,
           174]
e2_O01_hw = [75, 55, 50, 2, 2, 2, 2, 2, 2, 2,
             2, 2, 2, 2, 2, 2, 2, 2, 2, 2,
             2, 2, 2, 2, 2, 2, 2, 2, 2, 2,
             2, 2, 2, 2, 2, 2, 2, 2, 2, 2,
             2]
e2_O001_hw = [72, 55, 48, 2, 2, 2, 2, 2, 2, 2,
              2, 2, 2, 2, 2, 2, 2, 2, 2, 2,
              2, 2, 2, 2, 2, 2, 2, 2, 2, 2,
              2, 2, 2, 2, 2, 2, 2, 2, 2, 2,
              2]
e2_pend_hw = [70, 52, 48, 2, 2, 2, 2, 2, 2, 2,
              2, 2, 2, 2, 2, 2, 2, 2, 2, 2,
              2, 2, 2, 2, 2, 2, 2, 2, 2, 2,
              2, 2, 2, 2, 2, 2, 2, 2, 2, 2,
              2]

# ---------------- (e3) CartPole METRPO  (T5) ----------------
e3_cart = [123, 128, 132, 145, 140, 132, 125, 115, 108, 106,
           106, 100, 97, 95, 92, 89, 88, 87, 86, 87,
           87, 88, 87, 88, 88, 88, 87, 87, 86, 85,
           83, 84, 84, 84, 85, 84, 82, 79, 78, 76,
           73]
e3_O01 = [120, 113, 114, 124, 110, 98, 84, 84, 80, 79,
          93, 100, 115, 128, 138, 145, 142, 138, 140, 138,
          133, 130, 128, 130, 131, 131, 135, 140, 140, 142,
          143, 145, 148, 155, 165, 170, 177, 182, 183, 182,
          178]
e3_O001 = [123, 127, 125, 140, 140, 130, 132, 132, 137, 140,
           141, 144, 146, 148, 151, 154, 155, 157, 158, 160,
           160, 160, 160, 159, 158, 157, 158, 159, 160, 163,
           165, 165, 166, 166, 166, 166, 167, 167, 166, 166,
           166]
e3_cart_hw = [32, 30, 25, 18, 20, 25, 25, 25, 25, 25,
              25, 26, 27, 28, 28, 28, 27, 27, 26, 26,
              26, 26, 25, 25, 25, 25, 25, 25, 26, 27,
              27, 27, 28, 28, 28, 29, 30, 32, 35, 40,
              45]
e3_O01_hw = [30, 35, 40, 38, 36, 38, 40, 40, 40, 38,
             35, 32, 30, 28, 25, 22, 22, 24, 25, 28,
             30, 30, 28, 25, 22, 20, 18, 16, 15, 15,
             15, 15, 16, 18, 20, 20, 18, 15, 12, 10,
             12]
e3_O001_hw = [32, 30, 25, 20, 20, 22, 22, 22, 22, 22,
              22, 22, 22, 23, 24, 25, 26, 27, 27, 26,
              26, 25, 25, 25, 25, 25, 25, 25, 25, 24,
              24, 23, 22, 22, 23, 23, 22, 22, 23, 28,
              33]

# ---------------- styling / layout ----------------
COLORS = ["#4C72B0", "#DD8452", "#55A868", "#C44E52", "#8172B3"]
FONT = "Liberation Serif"
TXT = "#333333"


def rgba(h, a):
    h = h.lstrip("#")
    return "rgba(%d,%d,%d,%s)" % (int(h[0:2], 16), int(h[2:4], 16), int(h[4:6], 16), a)


PANELS = [
    dict(cap="(a1) HalfCheetah PETS-CEM", t=T5, labels=CHEETAH,
         means=[a1_A01, a1_O001, a1_O01, a1_A003, a1_ch],
         hws=[a1_A01_hw, a1_O001_hw, a1_O01_hw, a1_A003_hw, a1_ch_hw],
         box=(45, 298, 5, 195), yr=(-1048, 2958), dt=500, leg="ul", cxy=(168, 243), lw=74),
    dict(cap="(a2) Pendulum PETS-CEM", t=T25, labels=PENDULUM,
         means=[a2_O01, a2_O001, a2_pend], hws=[a2_O01_hw, a2_O001_hw, a2_pend_hw],
         box=(374, 627, 7, 195), yr=(78.6, 190.7), dt=20, leg="ll", cxy=(496, 243), lw=81),
    dict(cap="(a3) CartPole PETS-CEM", t=T25, labels=CARTPOLE,
         means=[a3_cart, a3_O01, a3_O001], hws=[a3_cart_hw, a3_O01_hw, a3_O001_hw],
         box=(701, 954, 7, 195), yr=(33.2, 208), dt=20, leg="lr", cxy=(823, 243), lw=77),
    dict(cap="(b1) HalfCheetah PETS-RS", t=T5, labels=CHEETAH,
         means=[b1_A01, b1_O001, b1_O01, b1_A003, b1_ch],
         hws=[b1_A01_hw, b1_O001_hw, b1_O01_hw, b1_A003_hw, b1_ch_hw],
         box=(40, 292, 287, 477), yr=(-408, 1966), dt=500, leg="ur", cxy=(161, 525), lw=74),
    dict(cap="(b2) Pendulum PETS-RS", t=T25, labels=PENDULUM,
         means=[b2_O01, b2_O001, b2_pend], hws=[b2_O01_hw, b2_O001_hw, b2_pend_hw],
         box=(374, 627, 288, 477), yr=(63.6, 183.6), dt=20, leg="ll", cxy=(494, 525), lw=81),
    dict(cap="(b3) CartPole PETS-RS", t=T25, labels=CARTPOLE,
         means=[b3_cart, b3_O01, b3_O001], hws=[b3_cart_hw, b3_O01_hw, b3_O001_hw],
         box=(707, 960, 288, 477), yr=(36.3, 208.6), dt=20, leg="lr", cxy=(829, 525), lw=77),
    dict(cap="(c1) HalfCheetah RS", t=T5, labels=CHEETAH,
         means=[c1_A01, c1_O001, c1_O01, c1_A003, c1_ch],
         hws=[c1_A01_hw, c1_O001_hw, c1_O01_hw, c1_A003_hw, c1_ch_hw],
         box=(40, 292, 570, 759), yr=(-347, 518), dt=100, leg="lr", cxy=(161, 807), lw=74),
    dict(cap="(c2) Pendulum RS", t=T25, labels=PENDULUM,
         means=[c2_O01, c2_O001, c2_pend], hws=[c2_O01_hw, c2_O001_hw, c2_pend_hw],
         box=(377, 631, 571, 759), yr=(-74, 177), dt=50, leg="ll", cxy=(495, 807), lw=81),
    dict(cap="(c3) CartPole RS", t=T25, labels=CARTPOLE,
         means=[c3_cart, c3_O01, c3_O001], hws=[c3_cart_hw, c3_O01_hw, c3_O001_hw],
         box=(711, 958, 571, 759), yr=(92.8, 205.4), dt=20, leg="ll", cxy=(829, 807), lw=77),
    dict(cap="(d1) HalfCheetah MBMF", t=T5, labels=CHEETAH,
         means=[d1_A01, d1_O001, d1_O01, d1_A003, d1_ch],
         hws=[d1_A01_hw, d1_O001_hw, d1_O01_hw, d1_A003_hw, d1_ch_hw],
         box=(38, 294, 852, 1042), yr=(-718, 367), dt=200, leg="ul", cxy=(164, 1090), lw=74),
    dict(cap="(d2) Pendulum MBMF", t=T5, labels=PENDULUM,
         means=[d2_O01, d2_O001, d2_pend], hws=[d2_O01_hw, d2_O001_hw, d2_pend_hw],
         box=(377, 631, 852, 1042), yr=(-128, 193), dt=50, leg="ll", cxy=(499, 1090), lw=81),
    dict(cap="(d3) CartPole MBMF", t=T5, labels=CARTPOLE,
         means=[d3_cart, d3_O01, d3_O001], hws=[d3_cart_hw, d3_O01_hw, d3_O001_hw],
         box=(711, 958, 852, 1042), yr=(-244, 225), dt=100, leg="ll", cxy=(832, 1090), lw=77),
    dict(cap="(e1) HalfCheetah METRPO", t=T5, labels=CHEETAH,
         means=[e1_A01, e1_O001, e1_O01, e1_A003, e1_ch],
         hws=[e1_A01_hw, e1_O001_hw, e1_O01_hw, e1_A003_hw, e1_ch_hw],
         box=(40, 292, 1135, 1327), yr=(-566, 3162), dt=500, leg="ul", cxy=(161, 1372), lw=74),
    dict(cap="(e2) Pendulum METRPO", t=T5, labels=PENDULUM,
         means=[e2_O01, e2_O001, e2_pend], hws=[e2_O01_hw, e2_O001_hw, e2_pend_hw],
         box=(373, 627, 1135, 1324), yr=(-16, 186), dt=25, leg="ll", cxy=(495, 1372), lw=81),
    dict(cap="(e3) CartPole METRPO", t=T5, labels=CARTPOLE,
         means=[e3_cart, e3_O01, e3_O001], hws=[e3_cart_hw, e3_O01_hw, e3_O001_hw],
         box=(707, 960, 1135, 1325), yr=(22.7, 208.8), dt=25, leg="ul", cxy=(828, 1372), lw=77),
]

for p in PANELS:
    for arr in p["means"] + p["hws"]:
        if len(arr) != len(p["t"]):
            raise ValueError("length mismatch in %s: %d vs %d" % (p["cap"], len(arr), len(p["t"])))

fig = go.Figure()
shapes = []
annotations = []
layout = dict(width=W, height=H, margin=dict(l=0, r=0, t=0, b=0, pad=0),
              paper_bgcolor="white", plot_bgcolor="#EAEAF2", showlegend=False)

AX = dict(showgrid=True, gridcolor="white", gridwidth=1, zeroline=False, showline=False,
          ticks="", tickfont=dict(family=FONT, size=7, color=TXT), fixedrange=True)


def px(x):
    return x / W


def py(y):
    return 1 - y / H


for i, p in enumerate(PANELS):
    n = i + 1
    sfx = "" if n == 1 else str(n)
    xa, ya = "x" + sfx, "y" + sfx
    x0, x1, y0, y1 = p["box"]
    layout["xaxis" + sfx] = dict(domain=[px(x0), px(x1)], anchor=ya, range=[-10000, 210000],
                                 tickvals=X_TICKS, tickformat="d", ticklabelstandoff=3,
                                 title=dict(text="timesteps", standoff=1,
                                            font=dict(family=FONT, size=7.5, color=TXT)), **AX)
    layout["yaxis" + sfx] = dict(domain=[py(y1), py(y0)], anchor=xa, range=list(p["yr"]),
                                 tick0=0, dtick=p["dt"], tickformat="d", ticklabelstandoff=3,
                                 title=dict(text="reward", standoff=3,
                                            font=dict(family=FONT, size=7.5, color=TXT)), **AX)
    t = p["t"]
    for k, (m, hw, lab) in enumerate(zip(p["means"], p["hws"], p["labels"])):
        c = COLORS[k]
        up = [a + b for a, b in zip(m, hw)]
        lo = [a - b for a, b in zip(m, hw)]
        fig.add_trace(go.Scatter(x=t + t[::-1], y=up + lo[::-1], fill="toself",
                                 fillcolor=rgba(c, 0.2), line=dict(width=0), mode="lines",
                                 hoverinfo="skip", showlegend=False, xaxis=xa, yaxis=ya))
        fig.add_trace(go.Scatter(x=t, y=m, mode="lines", line=dict(color=c, width=1.0),
                                 name=lab, showlegend=False, xaxis=xa, yaxis=ya))

    # legend box (drawn manually to match the compact seaborn legend)
    nlab = len(p["labels"])
    lw = p["lw"]
    lh = 18.2 + 8.8 * (nlab - 1)
    inset = 3
    if p["leg"][1] == "l":
        bl = x0 + inset
    else:
        bl = x1 - inset - lw
    if p["leg"][0] == "u":
        bt = y0 + inset
    else:
        bt = y1 - inset - lh
    shapes.append(dict(type="rect", xref="paper", yref="paper",
                       x0=px(bl), x1=px(bl + lw), y0=py(bt + lh), y1=py(bt),
                       fillcolor="rgba(234,234,242,0.8)", line=dict(color="#d0d0d0", width=0.8),
                       layer="above"))
    annotations.append(dict(text="algorithm", xref="paper", yref="paper",
                            x=px(bl + 34.5), y=py(bt + 5.6), xanchor="center", yanchor="middle",
                            showarrow=False, font=dict(family=FONT, size=7, color=TXT)))
    for k, lab in enumerate(p["labels"]):
        yy = bt + 13.7 + 8.8 * k
        shapes.append(dict(type="line", xref="paper", yref="paper",
                           x0=px(bl + 2.5), x1=px(bl + 16.5), y0=py(yy), y1=py(yy),
                           line=dict(color=COLORS[k], width=1.5), layer="above"))
        annotations.append(dict(text=lab, xref="paper", yref="paper",
                                x=px(bl + 19), y=py(yy), xanchor="left", yanchor="middle",
                                showarrow=False, font=dict(family=FONT, size=7, color=TXT)))

    annotations.append(dict(text=p["cap"], xref="paper", yref="paper",
                            x=px(p["cxy"][0]), y=py(p["cxy"][1]), xanchor="center", yanchor="middle",
                            showarrow=False, font=dict(family=FONT, size=26.5, color="black")))

layout["shapes"] = shapes
layout["annotations"] = annotations
fig.update_layout(**layout)

fig.write_html("out.html", config={"displayModeBar": False},
               post_script="document.body.style.margin='0';document.body.style.overflow='hidden';")
